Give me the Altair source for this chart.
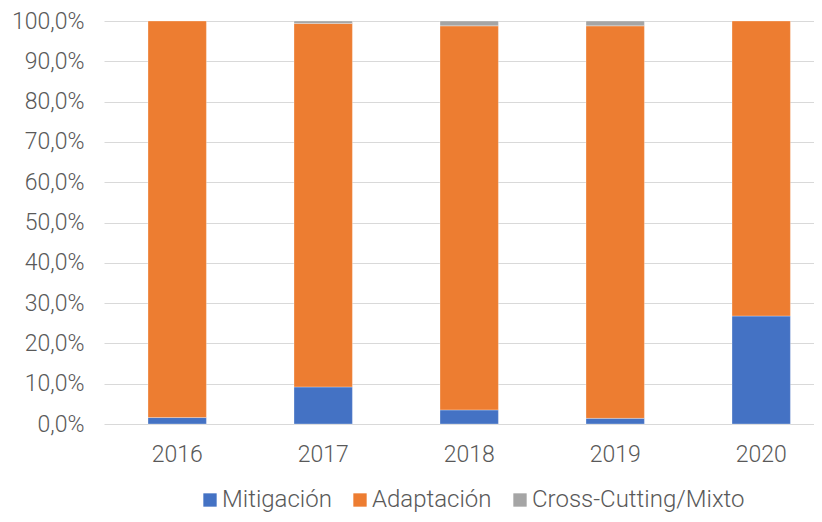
import altair as alt
import pandas as pd

years = ["2016", "2017", "2018", "2019", "2020"]
series = ["Mitigación", "Adaptación", "Cross-Cutting/Mixto"]
mitigacion = [1.6, 9.2, 3.5, 1.4, 26.8]
adaptacion = [98.4, 90.2, 95.3, 97.4, 73.2]
cross = [0.0, 0.6, 1.2, 1.2, 0.0]
colors = ["#4472C4", "#ED7D31", "#A5A5A5"]
y_ticks = [0, 0.1, 0.2, 0.3, 0.4, 0.5, 0.6, 0.7, 0.8, 0.9, 1.0]

rows = []
for i, yr in enumerate(years):
    for k, (name, vals) in enumerate(zip(series, [mitigacion, adaptacion, cross])):
        if vals[i] > 0:
            rows.append({"year": yr, "serie": name, "value": vals[i] / 100.0, "ord": k})
df = pd.DataFrame(rows)

FONT = "Roboto"
TXT = "#595959"

chart = alt.Chart(df).mark_bar(stroke="white", strokeWidth=0.5, strokeOpacity=0.6).encode(
    x=alt.X("year:N", sort=years,
            scale=alt.Scale(paddingInner=0.6, paddingOuter=0.2315, align=0.651),
            axis=alt.Axis(title=None, labelAngle=0, ticks=False, domain=False, grid=False,
                          labelPadding=19, labelFontSize=23, labelFont=FONT,
                          labelFontWeight=300, labelColor=TXT)),
    y=alt.Y("value:Q", stack="zero",
            scale=alt.Scale(domain=[0, 1], nice=False),
            axis=alt.Axis(title=None, values=y_ticks, ticks=False, domain=False,
                          labelExpr="replace(format(datum.value, '.1%'), '.', ',')",
                          grid=True, gridColor="#d9d9d9", gridWidth=1.2,
                          labelPadding=20, labelFontSize=23, labelFont=FONT,
                          labelFontWeight=300, labelColor=TXT)),
    color=alt.Color("serie:N",
                    scale=alt.Scale(domain=series, range=colors),
                    legend=alt.Legend(orient="none", legendX=94, legendY=467,
                                      direction="horizontal", title=None,
                                      symbolType="square", symbolSize=178,
                                      symbolStrokeWidth=0, labelOffset=0,
                                      columnPadding=16, labelFontSize=24,
                                      labelLimit=400,
                                      labelFont=FONT, labelFontWeight=300,
                                      labelColor=TXT)),
    order=alt.Order("ord:Q"),
).properties(
    width=710, height=403,
    padding={"left": 96, "top": 13, "right": 0, "bottom": 90},
    autosize=alt.AutoSizeParams(type="none"),
).configure_view(stroke=None)

chart.save("out.html", embed_options={"renderer": "svg", "actions": False})
